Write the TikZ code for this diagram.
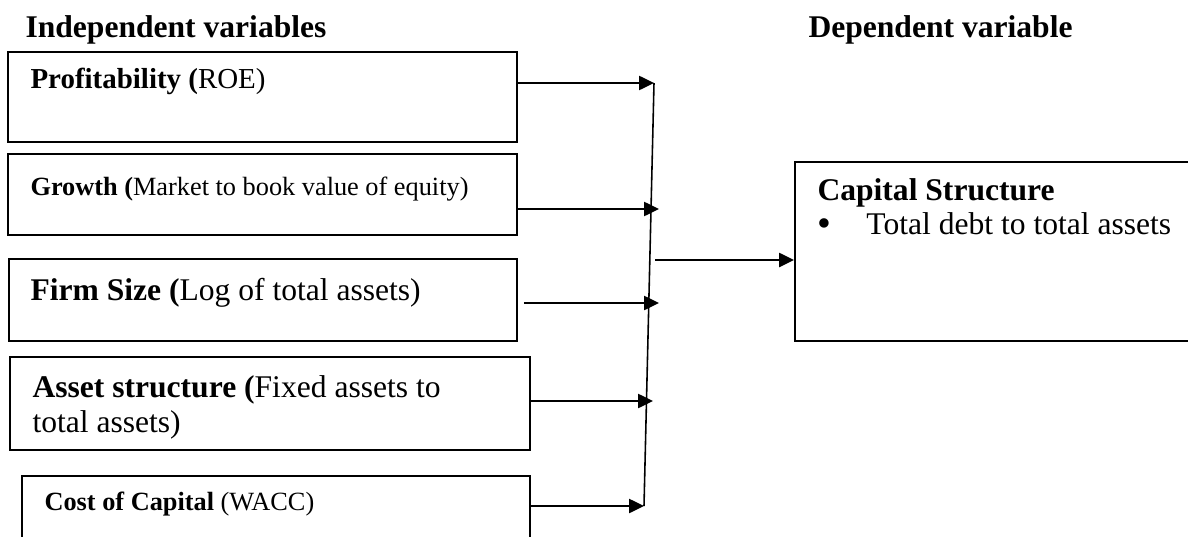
\documentclass[tikz,border=0pt]{standalone}
\usepackage{fontspec}
\setmainfont{Liberation Serif}
\usetikzlibrary{arrows.meta,fit,calc}

\begin{document}
\begin{tikzpicture}[
  x=0.38pt,y=-0.38pt,
  varbox/.style={draw,line width=0.75pt,inner sep=0pt},
  txtbig/.style={anchor=base west,inner sep=0pt,font=\fontsize{12}{13.3}\selectfont},
  txtmid/.style={txtbig,font=\fontsize{11}{13}\selectfont},
  txtsmall/.style={txtbig,font=\fontsize{10}{12}\selectfont},
  flow/.style={line width=0.7pt,-{Triangle[length=5.7pt,width=5.4pt]}}
]
  \useasboundingbox (0,0) rectangle (1188,537);

  \node[txtbig] (indep) at (25,37) {\textbf{Independent variables}};
  \node[txtbig] (dep) at (808,37) {\textbf{Dependent variable}};

  \node[varbox,fit={(8,52) (517,142)}] (profit) {};
  \node[varbox,fit={(8,154) (517,235)}] (growth) {};
  \node[varbox,fit={(9,259) (517,341)}] (size) {};
  \node[varbox,fit={(10,357) (530,450)}] (asset) {};
  \node[varbox,fit={(22,476) (530,570)}] (wacc) {};
  \node[varbox,fit={(795,162) (1200,341)}] (capital) {};

  \node[txtmid] (profittext) at (30,89) {\textbf{Profitability (}ROE)};
  \node[txtsmall] (growthtext) at (30,195) {\textbf{Growth (}Market to book value of equity)};
  \node[txtbig] (sizetext) at (30,300) {\textbf{Firm Size (}Log of total assets)};
  \node[txtbig] (assettext) at (32,397) {\parbox[t]{220pt}{\textbf{Asset structure (}Fixed assets to\\total assets)}};
  \node[txtsmall] (wacctext) at (44,510) {\textbf{Cost of Capital} (WACC)};
  \node[txtbig] (captitle) at (817,200) {\textbf{Capital Structure}};
  \node[txtbig] (capitem) at (817,234) {\makebox[18.6pt][l]{\fontsize{15}{15}\selectfont\raisebox{-1pt}{\textbullet}}Total debt to total assets};

  \coordinate (bustop) at (654,83);
  \coordinate (busbot) at (644,506);
  \coordinate (tip2) at (659,209);
  \coordinate (tip3) at (659,303);
  \coordinate (tip4) at (653,401);
  \coordinate (busout) at (655,260);

  \draw[line width=0.6pt] (bustop) -- (busbot);
  \draw[flow] (profit.east |- bustop) -- (bustop);
  \draw[flow] (growth.east |- tip2) -- (tip2);
  \draw[flow] ($(size.east |- tip3)+(6,0)$) -- (tip3);
  \draw[flow] (asset.east |- tip4) -- (tip4);
  \draw[flow] (wacc.east |- busbot) -- (busbot);
  \draw[flow] (busout) -- (busout -| capital.west);
\end{tikzpicture}
\end{document}
